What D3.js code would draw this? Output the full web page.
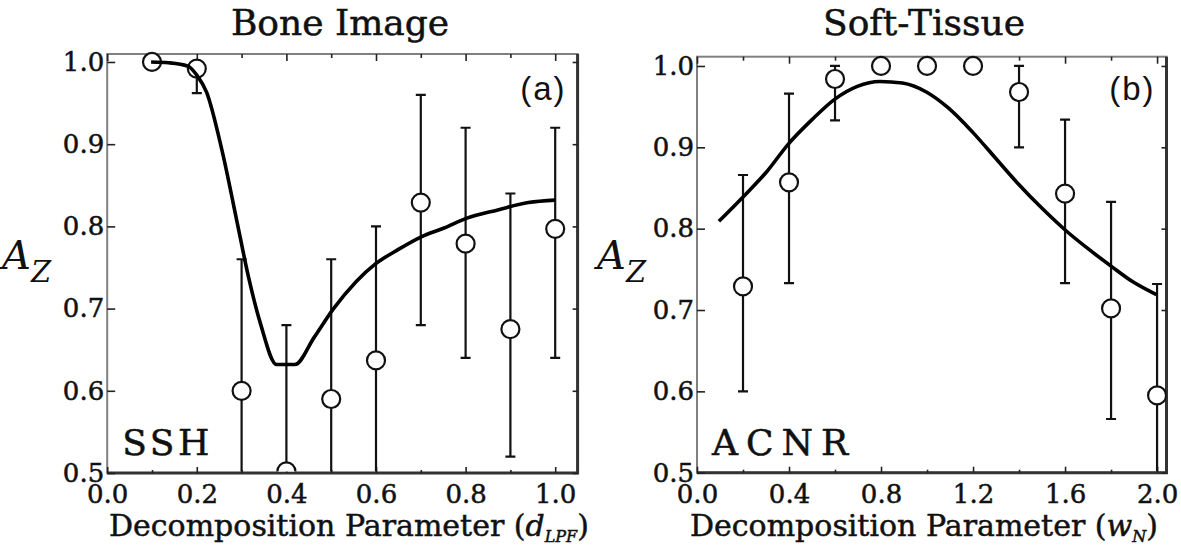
<!DOCTYPE html>
<html>
<head>
<meta charset="utf-8">
<script src="https://cdn.jsdelivr.net/npm/d3@7"></script>
<style>
	body { margin: 0; background: #fff; }
	text { fill: #111; }
</style>
</head>
<body>
<svg id="chart" width="1181" height="545"></svg>
<script>
// ---- data ----
var yTicks = [0.5, 0.6, 0.7, 0.8, 0.9, 1.0];

// (a) bone image, SSH
var boneX  = [0.1, 0.2, 0.3, 0.4, 0.5, 0.6, 0.7, 0.8, 0.9, 1.0];
var boneAz = [1.0, 0.992, 0.600, 0.502, 0.590, 0.637, 0.829, 0.779, 0.675, 0.797];
var boneLo = [null, 0.962, 0.44, 0.32, 0.42, 0.47, 0.68, 0.64, 0.52, 0.64];
var boneHi = [null, 1.0, 0.76, 0.68, 0.76, 0.80, 0.96, 0.92, 0.84, 0.92];
var boneFitX = [0.098, 0.137, 0.18, 0.20, 0.222, 0.256, 0.29, 0.316, 0.342, 0.378, 0.419, 0.462, 0.504, 0.556, 0.598, 0.65, 0.70, 0.752, 0.803, 0.872, 0.94, 1.0];
var boneFitY = [1.0, 0.999, 0.995, 0.984, 0.963, 0.893, 0.805, 0.737, 0.682, 0.632, 0.632, 0.665, 0.699, 0.733, 0.754, 0.772, 0.787, 0.798, 0.810, 0.820, 0.829, 0.832];
var boneMajor = [0, 0.2, 0.4, 0.6, 0.8, 1.0];
var boneMinor = [0.1, 0.3, 0.5, 0.7, 0.9];

// (b) soft tissue, ACNR
var softX  = [0.2, 0.4, 0.6, 0.8, 1.0, 1.2, 1.4, 1.6, 1.8, 2.0];
var softAz = [0.729, 0.857, 0.984, 1.0, 1.0, 1.0, 0.968, 0.843, 0.702, 0.595];
var softLo = [0.60, 0.733, 0.933, null, null, null, 0.90, 0.733, 0.566, 0.46];
var softHi = [0.866, 0.966, 1.0, null, null, null, 1.0, 0.934, 0.833, 0.732];
var softFitX = [0.095, 0.197, 0.303, 0.397, 0.5, 0.598, 0.697, 0.795, 0.893, 0.997, 1.09, 1.197, 1.303, 1.397, 1.5, 1.598, 1.697, 1.8, 1.893, 1.997];
var softFitY = [0.809, 0.838, 0.870, 0.904, 0.934, 0.959, 0.975, 0.981, 0.979, 0.968, 0.949, 0.919, 0.885, 0.855, 0.825, 0.799, 0.776, 0.754, 0.735, 0.719];
var softMajor = [0, 0.4, 0.8, 1.2, 1.6, 2.0];
var softMinor = [0.2, 0.6, 1.0, 1.4, 1.8];

var panels = [
	{
		id: 'a', title: 'Bone Image', titleX: 340, tag: '(a)', method: 'SSH', methodSpacing: 3.5,
		left: 107.2, right: 577.6, top: 54, bottom: 473,
		xDomain: [0, 1.05], yDomain: [0.5, 1.0097],
		xs: boneX, az: boneAz, lo: boneLo, hi: boneHi, fitX: boneFitX, fitY: boneFitY,
		major: boneMajor, minor: boneMinor, azX: 2, labelX: 109, sub: 'LPF'
	},
	{
		id: 'b', title: 'Soft-Tissue', titleX: 924, tag: '(b)', method: 'ACNR', methodSpacing: 8,
		left: 697, right: 1166.5, top: 56.7, bottom: 472.7,
		xDomain: [0, 2.041], yDomain: [0.5, 1.0114],
		xs: softX, az: softAz, lo: softLo, hi: softHi, fitX: softFitX, fitY: softFitY,
		major: softMajor, minor: softMinor, azX: 597, labelX: 690, sub: 'N'
	}
];

var svg = d3.select('#chart');
var fmt = d3.format('.1f');
var serif = '"DejaVu Serif", serif';

// the scanned figure has heavy strokes, so thicken the serif text a touch
function heavy(sel){
	return sel.attr('stroke', '#111').attr('stroke-width', 0.5);
}

panels.forEach(function(p){
	var x = d3.scaleLinear().domain(p.xDomain).range([p.left, p.right]);
	var y = d3.scaleLinear().domain(p.yDomain).range([p.bottom, p.top]);
	var w = p.right - p.left, h = p.bottom - p.top;

	var g = svg.append('g').attr('class', 'panel-' + p.id);

	// frame
	g.append('rect')
		.attr('x', p.left).attr('y', p.top)
		.attr('width', w).attr('height', h)
		.attr('fill', 'none').attr('stroke', '#808080').attr('stroke-width', 2);
	g.append('path')
		.attr('d', 'M' + p.left + ',' + p.bottom + 'H' + p.right + 'V' + p.top)
		.attr('fill', 'none').attr('stroke', '#333').attr('stroke-width', 3);

	// axes (ticks pointing inward)
	function strip(sel){
		sel.select('.domain').remove();
		sel.selectAll('line').attr('stroke', '#222').attr('stroke-width', 1.6);
		sel.selectAll('text')
			.style('font-family', serif).style('font-size', '26px').attr('fill', '#111')
			.call(heavy);
	}

	g.append('g').attr('transform', 'translate(0,' + p.bottom + ')')
		.call(d3.axisBottom(x).tickValues(p.major).tickFormat(fmt).tickSize(-6).tickPadding(12))
		.call(strip);
	g.append('g').attr('transform', 'translate(0,' + p.bottom + ')')
		.call(d3.axisBottom(x).tickValues(p.minor).tickFormat('').tickSize(-3))
		.call(strip);
	g.append('g').attr('transform', 'translate(0,' + p.top + ')')
		.call(d3.axisTop(x).tickValues(p.major).tickFormat('').tickSize(-7))
		.call(strip);
	g.append('g').attr('transform', 'translate(0,' + p.top + ')')
		.call(d3.axisTop(x).tickValues(p.minor).tickFormat('').tickSize(-4))
		.call(strip);
	g.append('g').attr('transform', 'translate(' + p.left + ',0)')
		.call(d3.axisLeft(y).tickValues(yTicks).tickFormat(fmt).tickSize(-8).tickPadding(3))
		.call(strip);
	g.append('g').attr('transform', 'translate(' + p.right + ',0)')
		.call(d3.axisRight(y).tickValues(yTicks).tickFormat('').tickSize(-5))
		.call(strip);

	// clip for data marks (open at top so 1.0 markers stay whole)
	g.append('clipPath').attr('id', 'clip-' + p.id)
		.append('rect')
		.attr('x', p.left).attr('y', p.top - 16)
		.attr('width', w).attr('height', h + 16 - 1.5);

	var data = p.xs.map(function(v, i){
		return { x: v, az: p.az[i], lo: p.lo[i], hi: p.hi[i] };
	});

	var marks = g.append('g').attr('clip-path', 'url(#clip-' + p.id + ')');

	var bars = marks.selectAll('.err')
		.data(data.filter(function(d){ return d.lo !== null; }))
		.enter().append('g').attr('class', 'err')
		.attr('stroke', '#111').attr('stroke-width', 2.2);
	bars.append('line')
		.attr('x1', function(d){ return x(d.x); }).attr('x2', function(d){ return x(d.x); })
		.attr('y1', function(d){ return y(d.lo); }).attr('y2', function(d){ return y(d.hi); });
	bars.append('line')
		.attr('x1', function(d){ return x(d.x) - 5; }).attr('x2', function(d){ return x(d.x) + 5; })
		.attr('y1', function(d){ return y(d.hi); }).attr('y2', function(d){ return y(d.hi); });
	bars.append('line')
		.attr('x1', function(d){ return x(d.x) - 5; }).attr('x2', function(d){ return x(d.x) + 5; })
		.attr('y1', function(d){ return y(d.lo); }).attr('y2', function(d){ return y(d.lo); });

	marks.selectAll('.pt')
		.data(data)
		.enter().append('circle').attr('class', 'pt')
		.attr('cx', function(d){ return x(d.x); })
		.attr('cy', function(d){ return y(d.az); })
		.attr('r', 9)
		.attr('fill', '#fff').attr('stroke', '#111').attr('stroke-width', 2.2);

	var fit = p.fitX.map(function(v, i){ return [v, p.fitY[i]]; });
	marks.append('path')
		.datum(fit)
		.attr('fill', 'none').attr('stroke', '#000').attr('stroke-width', 3.6)
		.attr('stroke-linejoin', 'round')
		.attr('d', d3.line()
			.x(function(d){ return x(d[0]); })
			.y(function(d){ return y(d[1]); })
			.curve(d3.curveMonotoneX));

	// texts
	g.append('text')
		.attr('x', p.titleX).attr('y', 35)
		.attr('text-anchor', 'middle')
		.style('font-family', serif).style('font-size', '36px')
		.call(heavy)
		.text(p.title);

	g.append('text')
		.attr('x', p.right - 11).attr('y', 100)
		.attr('text-anchor', 'end')
		.style('font-family', '"Liberation Sans", Arial, sans-serif').style('font-size', '33px')
		.style('letter-spacing', '2px')
		.text(p.tag);

	g.append('text')
		.attr('x', p.left + 15).attr('y', 455)
		.style('font-family', serif).style('font-size', '36px')
		.style('letter-spacing', p.methodSpacing + 'px')
		.call(heavy)
		.text(p.method);

	var az = g.append('text')
		.attr('x', p.azX).attr('y', 269)
		.style('font-family', serif).style('font-style', 'italic');
	az.append('tspan').style('font-size', '40px').text('A');
	az.append('tspan').attr('dy', 13).style('font-size', '29px').text('Z');

	var xl = g.append('text')
		.attr('x', p.labelX).attr('y', 536)
		.style('font-family', serif).style('font-size', '30px')
		.call(heavy);
	xl.append('tspan').text('Decomposition Parameter (');
	xl.append('tspan').style('font-style', 'italic').text(p.id === 'a' ? 'd' : 'w');
	xl.append('tspan').attr('dy', 6).style('font-style', 'italic').style('font-size', '16px').text(p.sub);
	xl.append('tspan').attr('dy', -6).text(')');
});
</script>
</body>
</html>
